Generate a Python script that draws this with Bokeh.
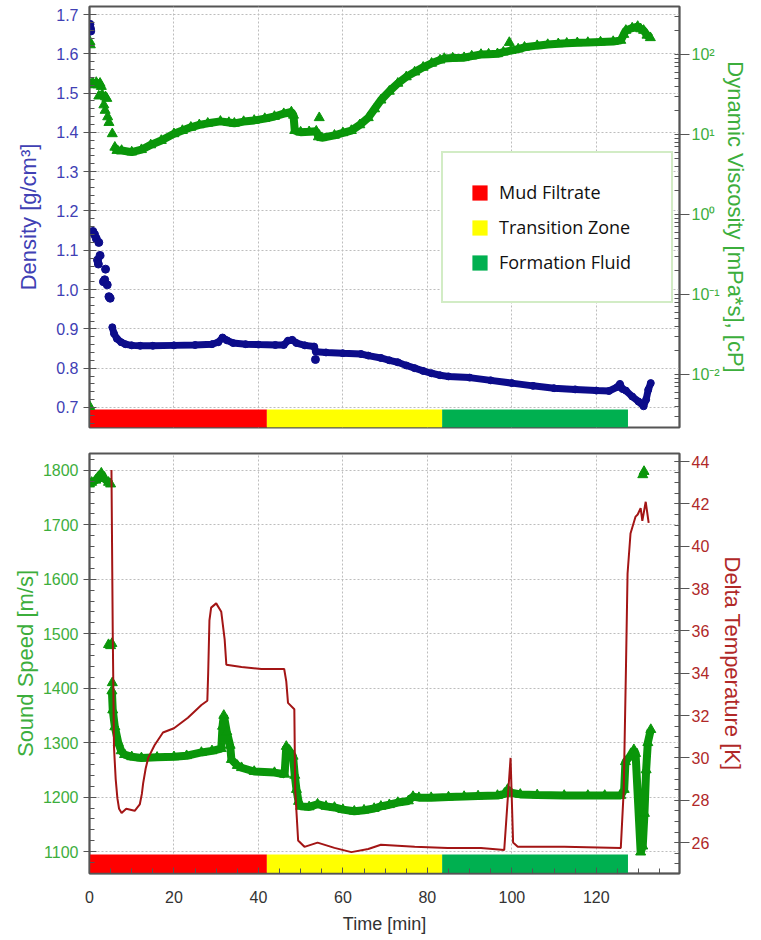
from bokeh.plotting import figure
from bokeh.layouts import column
from bokeh.models import (Range1d, LinearAxis, LogAxis, LogScale, SingleIntervalTicker,
                          FixedTicker, CustomJSTickFormatter, Legend, LegendItem, ColumnDataSource)
from bokeh.embed import file_html
from bokeh.resources import INLINE

NAN = float("nan")

# ---------------- data ----------------
zone_names = ["Mud Filtrate", "Transition Zone", "Formation Fluid"]
zone_start = [0.0, 42.0, 83.5]
zone_end = [42.0, 83.5, 127.5]
zone_colors = ["#ff0000", "#ffff00", "#00b050"]

# Density [g/cm3] - scattered early points and continuous trace
dens_pts_t = [0.1, 0.2, 0.3, 0.8, 1.2, 1.6, 2.2, 1.9, 2.1, 2.5, 3.3, 3.6, 3.8, 4.2, 4.6, 4.9, 53.5]
dens_pts_v = [1.675, 1.665, 1.658, 1.148, 1.14, 1.13, 1.12, 1.075, 1.065, 1.087, 1.02, 1.025, 1.052,
              1.012, 0.982, 0.978, 0.822]
dens_t = [5.4, 5.8, 6.5, 7.5, 8.5, 10, 12, 15, 20, 25, 29, 30.5, 31.5, 32.5, 34, 37, 40, 44, 46, 47, 48,
          49, 51, 53.2, 53.6, 56, 60, 64.3, 66, 69, 71, 73, 75, 77, 79, 81, 83, 85, 90, 95, 100, 105, 110,
          115, 120, 123, 125, 125.6, 126.2, 127, 128.5, 130, 131.2, 131.8, 132.3, 132.9]
dens_v = [0.904, 0.888, 0.875, 0.866, 0.861, 0.858, 0.857, 0.857, 0.858, 0.859, 0.861, 0.866, 0.878,
          0.871, 0.864, 0.861, 0.860, 0.859, 0.859, 0.870, 0.872, 0.864, 0.858, 0.855, 0.842, 0.840,
          0.838, 0.836, 0.832, 0.826, 0.820, 0.815, 0.807, 0.800, 0.793, 0.787, 0.782, 0.779, 0.776,
          0.769, 0.762, 0.755, 0.749, 0.746, 0.743, 0.742, 0.752, 0.760, 0.747, 0.743, 0.728, 0.715,
          0.703, 0.720, 0.745, 0.762]

# Dynamic viscosity [cP]
visc_pts_t = [0.1, 0.2, 0.05, 0.4, 0.8, 1.2, 1.6, 2.0, 2.5, 2.8, 2.2, 3.0, 3.8, 4.1, 3.4, 3.7, 4.3, 4.6,
              5.4, 54.4, 99.4]
visc_pts_v = [144.5, 131.8, 0.00398, 42.7, 43.6, 41.7, 44.7, 41.7, 43.6, 39.8, 30.2, 31.6, 29.5, 28.2,
              23.4, 20.0, 16.6, 14.1, 10.2, 16.2, 141.0]
visc_t = [6, 6.5, 7.6, 10, 12.3, 14.5, 17, 20, 22, 24, 26, 28, 31, 33, 34.3, 36.5, 39, 41.5, 43.8, 46,
          47.8, 48.3, 48.6, 50, 52, 53.7, 54.2, 55, 58, 60, 62, 64, 66, 67.5, 69, 71, 73, 75, 77, 79, 81,
          83, 84, 86, 88.7, 90.5, 92.7, 94.5, 96.6, 98, 99.8, 101.5, 103, 106, 108.5, 111, 113, 115.5,
          118, 121, 124, 125.8, 126.5, 127, 128.5, 129.8, 130.5, 131.2, 132, 132.8]
visc_v = [6.92, 6.31, 6.31, 6.03, 6.46, 7.41, 8.41, 10.2, 11.2, 12.3, 13.2, 13.8, 14.6, 14.1, 13.8, 14.5,
          15.0, 15.8, 16.8, 18.2, 19.1, 17.4, 11.2, 10.7, 10.8, 11.0, 9.33, 9.12, 9.77, 10.5, 11.2, 13.2,
          16.2, 20.9, 26.9, 34.7, 43.6, 52.5, 60.3, 69.2, 77.6, 85.1, 89.1, 90.2, 91.2, 95.5, 100, 101,
          102, 107, 112, 117, 123, 129, 133, 136, 138, 140, 141, 143, 145, 150, 178, 200, 214, 224, 209,
          200, 174, 162]

# Sound speed [m/s]
ss_pts_t = [4.5, 5.0, 5.3, 5.4, 131.0, 131.3]
ss_pts_v = [1480, 1478, 1482, 1410, 1792, 1798]
ss_t = [0, 0.5, 1.5, 2.8, 3.5, 4.5, 5.0, 5.2, 5.3, 5.5, 6.0, 6.8, 7.5, 8.3, 10, 12.3, 16, 20, 23, 26.5,
        29, 31.2, 31.5, 31.8, 32.5, 33.3, 33.6, 35, 36, 39, 43.8, 46.2, 46.6, 47.3, 48.2, 48.6, 49, 49.5,
        50, 52, 54, 56, 58, 60, 62.7, 65, 67.4, 69, 71, 73, 75.5, 76.6, 78, 80.9, 85, 88.7, 92, 96.6,
        98.3, 99, 99.8, 102, 106, 112.4, 118, 122, 125.8, 126.6, 126.9, 128, 128.9, 129.3, 130.5, 131,
        131.4, 131.8, 132.2, 132.9]
ss_v = [1775, 1778, 1782, 1795, 1785, 1778, 1775, NAN, 1395, 1360, 1329, 1300, 1285, 1278, 1274, 1272,
        1273, 1274, 1276, 1282, 1285, 1289, 1330, 1350, 1320, 1295, 1269, 1258, 1254, 1247, 1245, 1242,
        1293, 1285, 1275, 1240, 1214, 1192, 1183, 1182, 1187, 1183, 1181, 1177, 1174, 1176, 1179, 1183,
        1186, 1190, 1193, 1201, 1199, 1199, 1200, 1201, 1202, 1203, 1206, 1214, 1208, 1205, 1204, 1203,
        1203, 1203, 1203, 1214, 1265, 1275, 1287, 1280, 1099, 1110, 1170, 1250, 1300, 1324]

# Delta temperature [K]
dt_t = [5.2, 5.5, 5.8, 6.2, 6.6, 7.0, 7.6, 8.7, 10.7, 11.9, 12.4, 12.7, 13.3, 13.9, 15.4, 17.4, 20, 23.3,
        26.5, 27.9, 28.1, 28.4, 28.8, 30, 31.2, 32, 32.4, 36, 40.7, 46.1, 46.6, 47, 48.5, 48.7, 49.4,
        50.9, 54, 58, 62, 66, 69, 77, 84.8, 92.7, 98.2, 99.7, 100.3, 101.4, 112.4, 125.8, 126.5, 127,
        127.4, 128.1, 129.3, 129.8, 130.5, 130.9, 131.7, 132.4]
dt_v = [43.6, 36.0, 30.5, 29.0, 28.1, 27.6, 27.4, 27.6, 27.5, 27.8, 28.3, 28.8, 29.5, 30.0, 30.6, 31.2,
        31.4, 31.9, 32.5, 32.7, 34.0, 36.5, 37.1, 37.3, 36.9, 35.6, 34.4, 34.3, 34.2, 34.2, 33.6, 32.6,
        32.3, 28.5, 26.1, 25.8, 26.0, 25.75, 25.55, 25.7, 25.9, 25.8, 25.75, 25.75, 25.65, 30.0, 26.0,
        25.8, 25.8, 25.75, 28.5, 34.0, 38.7, 40.6, 41.4, 41.5, 41.8, 41.2, 42.1, 41.1]

x_ticks_step = 20

# ---------------- styles ----------------
BLUE_TXT = "#4040b4"
GREEN_TXT = "#3cae3c"
RED_TXT = "#b02828"
NAVY = "#0c0c8a"
GREEN = "#0a960a"
DRED = "#a31515"
FRAME = "#555555"
FONT = "Liberation Sans"

X0, X1 = 0.0, 139.7
D0, D1 = 0.649, 1.7204
V0, V1 = 0.002176, 398.1
S0, S1 = 1059.7, 1831.1
T0, T1 = 24.54, 44.38
DBAR = 0.695
SBAR = 1094.5


def style_axis(ax, color, label_size="22px", tick_in=7, tick_out=6, standoff=5, lab_standoff=10):
    ax.axis_line_color = FRAME
    ax.axis_line_width = 1.5
    ax.major_tick_line_color = FRAME
    ax.minor_tick_line_color = FRAME
    ax.major_tick_in = tick_in
    ax.major_tick_out = tick_out
    ax.minor_tick_in = 5
    ax.minor_tick_out = 0
    ax.major_label_text_color = color
    ax.major_label_text_font = FONT
    ax.major_label_text_font_size = "16px"
    ax.major_label_standoff = standoff
    ax.axis_label_text_color = color
    ax.axis_label_text_font = FONT
    ax.axis_label_text_font_size = label_size
    ax.axis_label_text_font_style = "normal"
    ax.axis_label_standoff = lab_standoff


def style_fig(p):
    p.outline_line_color = FRAME
    p.outline_line_width = 2
    p.xgrid.grid_line_color = "#bdbdbd"
    p.xgrid.grid_line_dash = "2 2"
    p.ygrid.grid_line_color = "#bdbdbd"
    p.ygrid.grid_line_dash = "2 2"
    p.background_fill_color = "white"
    p.border_fill_color = "white"


# ---------------- top panel ----------------
p1 = figure(width=756, height=440, x_range=Range1d(X0, X1), y_range=Range1d(D0, D1),
            output_backend="svg", toolbar_location=None,
            min_border_left=89, min_border_right=77, min_border_top=6, min_border_bottom=13)
p1.extra_y_ranges = {"visc": Range1d(V0, V1)}
p1.extra_y_scales = {"visc": LogScale()}
style_fig(p1)
p1.xaxis.visible = False
p1.xaxis.ticker = SingleIntervalTicker(interval=x_ticks_step, num_minor_ticks=4)
p1.xgrid.ticker = SingleIntervalTicker(interval=x_ticks_step)
p1.yaxis.ticker = SingleIntervalTicker(interval=0.1, num_minor_ticks=5)
p1.yaxis.formatter = CustomJSTickFormatter(code="return tick.toFixed(1);")
p1.yaxis.axis_label = "Density [g/cm³]"
style_axis(p1.yaxis[0], BLUE_TXT, lab_standoff=12)

minor_log = [m * 10.0 ** e for e in range(-3, 3) for m in range(2, 10)]
vaxis = LogAxis(y_range_name="visc",
                ticker=FixedTicker(ticks=[0.01, 0.1, 1, 10, 100], minor_ticks=minor_log),
                axis_label="Dynamic Viscosity [mPa*s], [cP]")
vaxis.formatter = CustomJSTickFormatter(code="""
const e = Math.round(Math.log10(tick));
const sup = {'-':'\u207b','0':'\u2070','1':'\u00b9','2':'\u00b2','3':'\u00b3'};
return '10' + String(e).split('').map(c => sup[c]).join('');
""")
style_axis(vaxis, GREEN_TXT, tick_in=5, tick_out=10, standoff=2, lab_standoff=0)
p1.add_layout(vaxis, "right")

zsrc1 = ColumnDataSource(dict(left=zone_start, right=zone_end, color=zone_colors,
                              bottom=[D0] * 3, top=[DBAR] * 3))
zr1 = p1.quad(left="left", right="right", bottom="bottom", top="top", fill_color="color",
              line_color=None, source=zsrc1)

# viscosity
p1.line(visc_t, visc_v, y_range_name="visc", line_color=GREEN, line_width=8)
p1.scatter(visc_t, visc_v, y_range_name="visc", marker="triangle", size=10,
           fill_color=GREEN, line_color=GREEN)
p1.scatter(visc_pts_t, visc_pts_v, y_range_name="visc", marker="triangle", size=10,
           fill_color=GREEN, line_color=GREEN)
# density
p1.line(dens_t, dens_v, line_color=NAVY, line_width=7)
p1.scatter(dens_t, dens_v, marker="circle", size=7, fill_color=NAVY, line_color=NAVY)
p1.scatter(dens_pts_t, dens_pts_v, marker="circle", size=8, fill_color=NAVY, line_color=NAVY)

legend = Legend(items=[LegendItem(label=zone_names[i], renderers=[zr1], index=i) for i in range(3)],
                location=(352, 124), padding=27, spacing=11, glyph_width=19, glyph_height=19,
                label_height=24, label_standoff=10, label_width=145,
                label_text_font="Open Sans", label_text_font_size="18px", label_text_color="#111111",
                border_line_color="#a6d98b", border_line_width=2.5,
                background_fill_color="white", background_fill_alpha=1.0)
p1.add_layout(legend)

# ---------------- bottom panel ----------------
p2 = figure(width=756, height=496, x_range=p1.x_range, y_range=Range1d(S0, S1),
            output_backend="svg", toolbar_location=None,
            min_border_left=89, min_border_right=77, min_border_top=13, min_border_bottom=62)
p2.extra_y_ranges = {"temp": Range1d(T0, T1)}
style_fig(p2)
p2.xaxis.ticker = SingleIntervalTicker(interval=x_ticks_step, num_minor_ticks=4)
p2.xaxis.axis_label = "Time [min]"
style_axis(p2.xaxis[0], "#333333", label_size="18px", tick_in=6, tick_out=0, standoff=17,
           lab_standoff=8)
p2.yaxis.ticker = SingleIntervalTicker(interval=100, num_minor_ticks=5)
p2.yaxis.axis_label = "Sound Speed [m/s]"
style_axis(p2.yaxis[0], GREEN_TXT, lab_standoff=2)

taxis = LinearAxis(y_range_name="temp", ticker=SingleIntervalTicker(interval=2, num_minor_ticks=4),
                   axis_label="Delta Temperature [K]")
style_axis(taxis, RED_TXT, tick_in=5, tick_out=10, standoff=2, lab_standoff=8)
p2.add_layout(taxis, "right")

zsrc2 = ColumnDataSource(dict(left=zone_start, right=zone_end, color=zone_colors,
                              bottom=[S0] * 3, top=[SBAR] * 3))
p2.quad(left="left", right="right", bottom="bottom", top="top", fill_color="color",
        line_color=None, source=zsrc2)

p2.line(ss_t, ss_v, line_color=GREEN, line_width=8)
p2.scatter(ss_t, ss_v, marker="triangle", size=10, fill_color=GREEN, line_color=GREEN)
p2.scatter(ss_pts_t, ss_pts_v, marker="triangle", size=10, fill_color=GREEN, line_color=GREEN)
p2.line(dt_t, dt_v, y_range_name="temp", line_color=DRED, line_width=2)

layout = column(p1, p2, spacing=0)
open("out.html", "w", encoding="utf-8").write(file_html(layout, INLINE))
